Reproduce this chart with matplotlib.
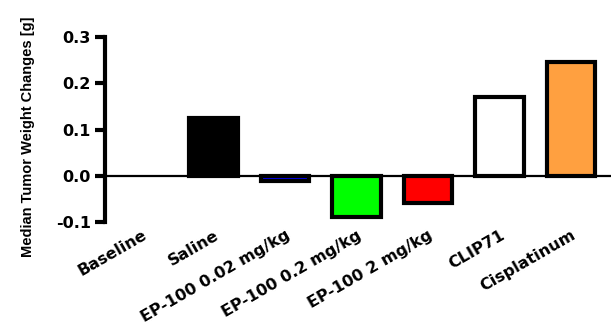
import matplotlib
matplotlib.use("Agg")
import matplotlib.pyplot as plt

categories = ["Baseline", "Saline", "EP-100 0.02 mg/kg", "EP-100 0.2 mg/kg",
              "EP-100 2 mg/kg", "CLIP71", "Cisplatinum"]
values = [0.0, 0.125, -0.012, -0.09, -0.059, 0.170, 0.246]
colors = ["white", "black", "#0000FF", "#00FF00", "#FF0000", "white", "#FFA040"]
yticks = [-0.1, 0.0, 0.1, 0.2, 0.3]
ytick_labels = ["-0.1", "0.0", "0.1", "0.2", "0.3"]

plt.rcParams['font.family'] = ['DejaVu Sans']

fig = plt.figure(figsize=(6.11, 3.24), dpi=100)
ax = fig.add_axes([105/611, 1 - 222/324, 1 - 105/611, (222 - 37)/324])

x = list(range(len(categories)))
for i, (v, c) in enumerate(zip(values, colors)):
    if v == 0:
        continue
    ax.bar(i, v, width=0.68, color=c, edgecolor="black", linewidth=3.0, zorder=2)

ax.axhline(0, color="black", linewidth=1.6, zorder=3)
ax.set_xlim(-0.52, 6.56)
ax.set_ylim(-0.1, 0.3)
ax.set_yticks(yticks)
ax.set_yticklabels(ytick_labels, fontsize=11.5, fontweight="bold")
ax.set_xticks(x)
ax.set_xticklabels(categories, rotation=30, ha="right", va="top", rotation_mode="anchor",
                   fontsize=11.5, fontweight="bold")
ax.tick_params(axis="x", length=0, pad=4)
ax.tick_params(axis="y", length=7, width=3, pad=3)
for s in ["top", "right", "bottom"]:
    ax.spines[s].set_visible(False)
ax.spines["left"].set_linewidth(3)
ax.set_ylabel("Median Tumor Weight Changes [g]", fontsize=10.5, family="Liberation Sans",
              fontweight="bold")
ax.yaxis.set_label_coords(-(105 - 35) / (611 - 105), 0.46)

fig.savefig("out.png", dpi=100)
